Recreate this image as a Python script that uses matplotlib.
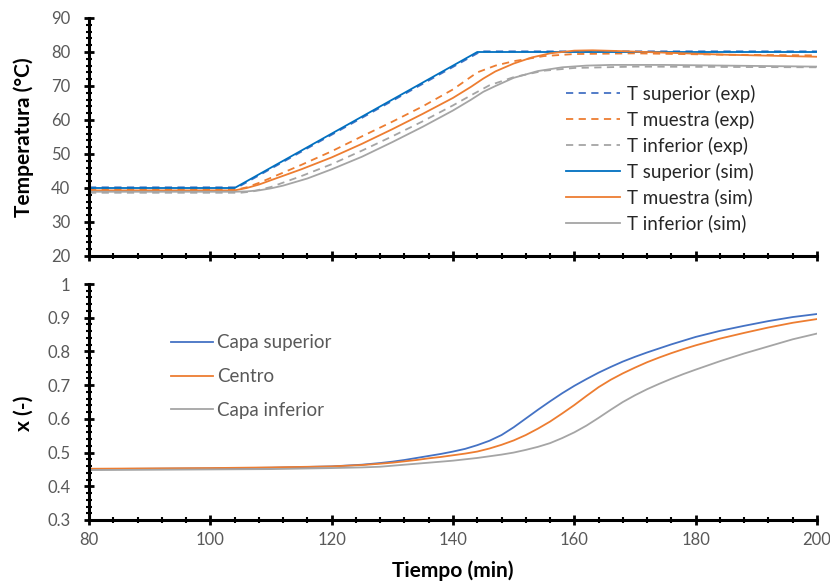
import numpy as np
import matplotlib.pyplot as plt
from matplotlib.ticker import MultipleLocator

plt.rcParams['font.family'] = ['Lato', 'DejaVu Sans']

# --- top panel: temperatures (min, degC) ---
t_sup_exp = [80, 104.5, 144.6, 200]
T_sup_exp = [40.2, 40.2, 80.2, 80.2]
t_sup_sim = [80, 104, 144, 200]
T_sup_sim = [40.0, 40.0, 80.0, 80.0]

t_mue_exp = [80, 104.5, 106, 108, 110, 115, 120, 125, 130, 135, 140, 144, 147, 150, 155, 160, 170, 185, 200]
T_mue_exp = [39.6, 39.6, 40.2, 41.5, 43.0, 46.8, 50.8, 55.2, 59.5, 64.0, 69.0, 74.0, 76.0, 77.3, 78.8, 79.4, 79.6, 79.2, 79.0]
t_mue_sim = [80, 104, 106, 108, 110, 115, 120, 125, 130, 135, 140, 143, 145, 147, 150, 153, 156, 160, 163, 167, 175, 185, 200]
T_mue_sim = [39.3, 39.3, 40.0, 41.0, 42.3, 45.5, 49.0, 53.0, 57.3, 61.8, 66.5, 69.8, 72.2, 74.3, 76.6, 78.4, 79.6, 80.4, 80.5, 80.3, 79.8, 79.2, 78.6]

t_inf_exp = [80, 105, 107, 110, 115, 120, 125, 130, 135, 140, 143, 146, 150, 155, 160, 170, 185, 200]
T_inf_exp = [38.6, 38.6, 39.0, 40.3, 43.5, 47.0, 51.0, 55.2, 59.6, 64.3, 67.3, 70.2, 72.6, 74.5, 75.3, 75.7, 75.6, 75.5]
t_inf_sim = [80, 104, 106, 108, 110, 112, 116, 120, 125, 130, 135, 140, 143, 145, 147, 150, 154, 158, 162, 166, 175, 185, 200]
T_inf_sim = [38.9, 38.9, 39.0, 39.3, 39.9, 40.7, 42.8, 45.5, 49.2, 53.5, 58.0, 62.8, 66.0, 68.3, 70.0, 72.4, 74.4, 75.5, 76.0, 76.2, 76.2, 76.0, 75.7]

# --- bottom panel: x (-) ---
t_x = [80, 100, 110, 120, 125, 128, 130, 132, 134, 136, 138, 140, 142, 144, 146, 148, 150, 152, 154, 156,
       158, 160, 162, 164, 166, 168, 170, 172, 174, 176, 178, 180, 184, 188, 192, 196, 200]
x_sup = [0.451, 0.453, 0.455, 0.459, 0.464, 0.469, 0.473, 0.478, 0.484, 0.490, 0.496, 0.503, 0.511, 0.522, 0.535,
         0.552, 0.575, 0.601, 0.627, 0.652, 0.676, 0.698, 0.718, 0.737, 0.754, 0.770, 0.784, 0.797, 0.809, 0.821,
         0.832, 0.843, 0.861, 0.876, 0.890, 0.902, 0.911]
x_cen = [0.452, 0.454, 0.456, 0.459, 0.463, 0.467, 0.470, 0.474, 0.478, 0.483, 0.487, 0.492, 0.497, 0.503, 0.512,
         0.523, 0.536, 0.552, 0.571, 0.592, 0.616, 0.641, 0.668, 0.694, 0.716, 0.735, 0.752, 0.768, 0.782, 0.795,
         0.807, 0.818, 0.838, 0.855, 0.871, 0.885, 0.896]
x_inf = [0.448, 0.450, 0.451, 0.454, 0.456, 0.458, 0.461, 0.464, 0.467, 0.470, 0.473, 0.476, 0.480, 0.484, 0.489,
         0.494, 0.500, 0.508, 0.517, 0.528, 0.543, 0.560, 0.580, 0.603, 0.627, 0.650, 0.670, 0.688, 0.704, 0.719,
         0.733, 0.746, 0.771, 0.794, 0.815, 0.836, 0.853]

blue_exp = '#4472C4'
blue_sim = '#0070C0'
orange = '#ED7D31'
grey = '#A5A5A5'
txt = '#595959'

fig = plt.figure(figsize=(8.3, 5.81), dpi=100)
ax1 = fig.add_axes([89 / 830, 1 - 256 / 581, 728 / 830, 238 / 581])
ax2 = fig.add_axes([89 / 830, 1 - 520 / 581, 728 / 830, 236 / 581])

dash = (0, (4, 3))
lw = 1.3
ax1.plot(t_sup_exp, T_sup_exp, color=blue_exp, lw=lw, ls=dash, label='T superior (exp)')
ax1.plot(t_mue_exp, T_mue_exp, color=orange, lw=lw, ls=dash, label='T muestra (exp)')
ax1.plot(t_inf_exp, T_inf_exp, color=grey, lw=lw, ls=dash, label='T inferior (exp)')
ax1.plot(t_sup_sim, T_sup_sim, color=blue_sim, lw=lw, label='T superior (sim)')
ax1.plot(t_mue_sim, T_mue_sim, color=orange, lw=lw, label='T muestra (sim)')
ax1.plot(t_inf_sim, T_inf_sim, color=grey, lw=lw, label='T inferior (sim)')

ax2.plot(t_x, x_sup, color=blue_exp, lw=lw, label='Capa superior')
ax2.plot(t_x, x_cen, color=orange, lw=lw, label='Centro')
ax2.plot(t_x, x_inf, color=grey, lw=lw, label='Capa inferior')

ax1.set_ylim(20, 90)
ax2.set_ylim(0.3, 1.0)
ax1.yaxis.set_major_locator(MultipleLocator(10))
ax1.yaxis.set_minor_locator(MultipleLocator(2))
ax2.yaxis.set_minor_locator(MultipleLocator(0.02))
ax2.set_yticks(np.arange(0.3, 1.01, 0.1))
ax2.set_yticklabels(['0.3', '0.4', '0.5', '0.6', '0.7', '0.8', '0.9', '1'])

for ax in (ax1, ax2):
    ax.set_xlim(80, 200)
    ax.xaxis.set_major_locator(MultipleLocator(20))
    ax.xaxis.set_minor_locator(MultipleLocator(4))
    for s in ('top', 'right'):
        ax.spines[s].set_visible(False)
    for s in ('left', 'bottom'):
        ax.spines[s].set_linewidth(2.2)
        ax.spines[s].set_color('black')
    ax.tick_params(which='major', direction='inout', length=7, width=2, color='black',
                   labelsize=12, labelcolor=txt)
    ax.tick_params(which='minor', direction='inout', length=5, width=1.5, color='black')
    ax.tick_params(axis='y', pad=10)
    ax.tick_params(axis='x', pad=5)

ax1.tick_params(axis='x', labelbottom=False)

ax1.set_ylabel('Temperatura (°C)', fontsize=15, fontweight='bold')
ax2.set_ylabel('x (-)', fontsize=15, fontweight='bold')
ax2.set_xlabel('Tiempo (min)', fontsize=15, fontweight='bold', labelpad=9)
ax1.yaxis.set_label_coords(-0.076, 0.5)
ax2.yaxis.set_label_coords(-0.076, 0.45)

leg1 = ax1.legend(loc='upper left', bbox_to_anchor=(0.655, 0.72), frameon=False, fontsize=13.5,
                  handlelength=2.9, handletextpad=0.35, labelspacing=0.42,
                  borderpad=0, borderaxespad=0)
for t in leg1.get_texts():
    t.set_color('#262626')

leg2 = ax2.legend(loc='upper left', bbox_to_anchor=(0.113, 0.787), frameon=False, fontsize=13.5,
                  handlelength=2.2, handletextpad=0.25, labelspacing=0.9,
                  borderpad=0, borderaxespad=0)
for t in leg2.get_texts():
    t.set_color(txt)

fig.savefig('out.png', dpi=100)
